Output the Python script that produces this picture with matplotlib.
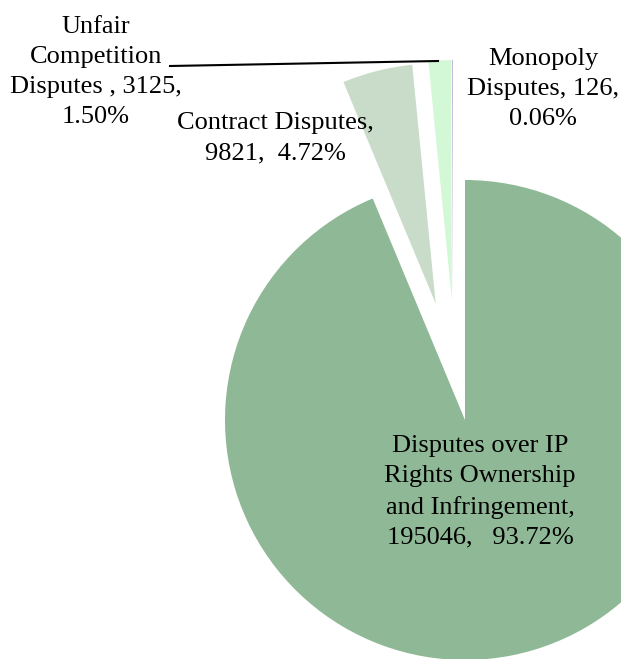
"""Pie of IP dispute categories, exploded minor slices, Excel-like styling."""
import matplotlib
matplotlib.use("Agg")
import matplotlib.pyplot as plt

categories = [
    "Disputes over IP Rights Ownership and Infringement",
    "Contract Disputes",
    "Unfair Competition Disputes",
    "Monopoly Disputes",
]
counts = [195046, 9821, 3125, 126]
label_fmt = [
    "Disputes over IP\nRights Ownership\nand Infringement,\n{v},   {p}",
    "Contract Disputes,\n{v},  {p}",
    "Unfair\nCompetition\nDisputes , {v},\n{p}",
    "Monopoly\nDisputes, {v},\n{p}",
]
colours = ["#8FB996", "#C8DCC9", "#D3F8D5", "#B3A6D3"]

W, H = 621, 659
CX, CY, R = 465, H - 420, 240
explode = [0, 120, 120, 120]
nudge = [(0, 0), (0, 0), (-7, 0), (-12, 0)]  # Excel shifts the tiny slices a bit left
label_pos = [(480, 492), (275, 138), (96, 72), (543, 89)]  # pixel coords, y down

plt.rcParams["font.family"] = ["Liberation Serif", "DejaVu Serif"]

fig = plt.figure(figsize=(W / 100, H / 100), dpi=100)
ax = fig.add_axes([0, 0, 1, 1])

wedges, _ = ax.pie(
    counts,
    colors=colours,
    startangle=90,
    counterclock=False,
    explode=explode,
    center=(CX, CY),
    radius=R,
    wedgeprops={"linewidth": 0},
    frame=True,
)
ax.set_xlim(0, W)
ax.set_ylim(0, H)
ax.set_aspect("equal")
ax.axis("off")
for w, (dx, dy) in zip(wedges, nudge):
    x, y = w.center
    w.set_center((x + dx, y + dy))

total = sum(counts)
for fmt, v, (px, py) in zip(label_fmt, counts, label_pos):
    pct = f"{100 * v / total:.2f}%"
    ax.text(px, H - py, fmt.format(v=v, p=pct), ha="center", va="center",
            multialignment="center", fontsize=19, linespacing=1.47)

# leader line for the unfair competition label
ax.plot([170, 438], [H - 66, H - 61], color="black", linewidth=1.5)

fig.savefig("out.png", dpi=100)
